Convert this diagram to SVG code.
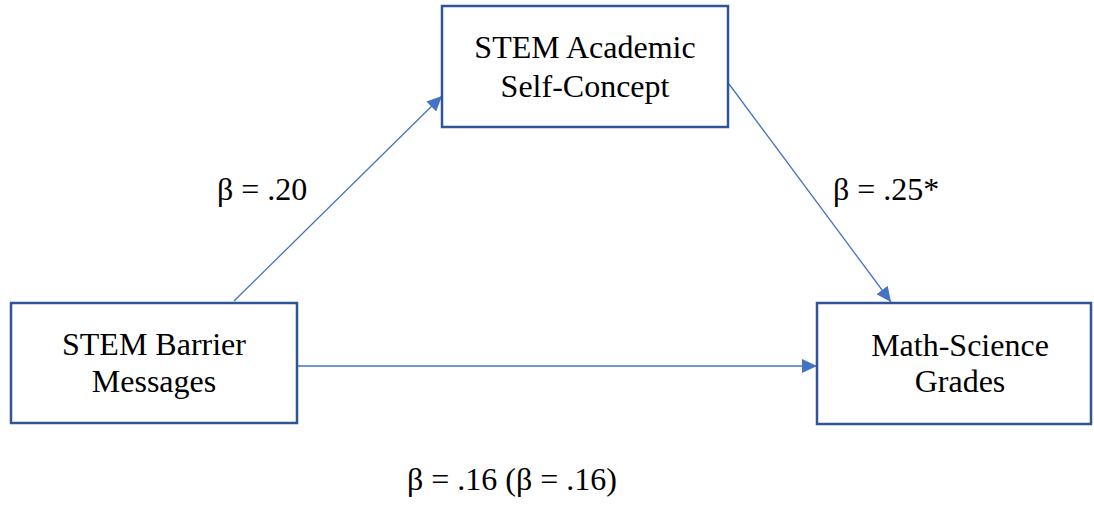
<svg xmlns="http://www.w3.org/2000/svg" width="1094" height="506" viewBox="0 0 1094 506">
<style>
.box{fill:#fff;stroke:#2F5597;stroke-width:2.5}
.lbl{font-family:"Liberation Serif","Times New Roman",serif;font-size:32px;fill:#000}
.conn{stroke:#4472C4;stroke-width:1.3;fill:none}
</style>
<defs>
<marker id="ah" markerUnits="userSpaceOnUse" markerWidth="16" markerHeight="14" refX="15" refY="7" orient="auto">
<path d="M0,0 L15,7 L0,14 Z" fill="#4472C4"/>
</marker>
</defs>
<rect width="1094" height="506" fill="#fff"/>
<g id="connectors">
<line class="conn" x1="234" y1="301" x2="442" y2="96" marker-end="url(#ah)"/>
<line class="conn" x1="729" y1="84" x2="891" y2="302" marker-end="url(#ah)"/>
<line class="conn" x1="298" y1="366" x2="817" y2="366" marker-end="url(#ah)"/>
</g>
<g id="node-selfconcept">
<rect class="box" x="442" y="6" width="286" height="121"/>
<text class="lbl" x="585" y="58" text-anchor="middle">STEM Academic</text>
<text class="lbl" x="585" y="97" text-anchor="middle">Self-Concept</text>
</g>
<g id="node-barrier">
<rect class="box" x="11" y="303" width="286" height="120"/>
<text class="lbl" x="154" y="355" text-anchor="middle">STEM Barrier</text>
<text class="lbl" x="154" y="392" text-anchor="middle">Messages</text>
</g>
<g id="node-grades">
<rect class="box" x="817" y="303" width="274" height="121"/>
<text class="lbl" x="960" y="356" text-anchor="middle">Math-Science</text>
<text class="lbl" x="960" y="392" text-anchor="middle">Grades</text>
</g>
<g id="labels">
<text class="lbl" x="217" y="200">β = .20</text>
<text class="lbl" x="833" y="200">β = .25*</text>
<text class="lbl" x="407" y="490">β = .16 (β = .16)</text>
</g>
</svg>
